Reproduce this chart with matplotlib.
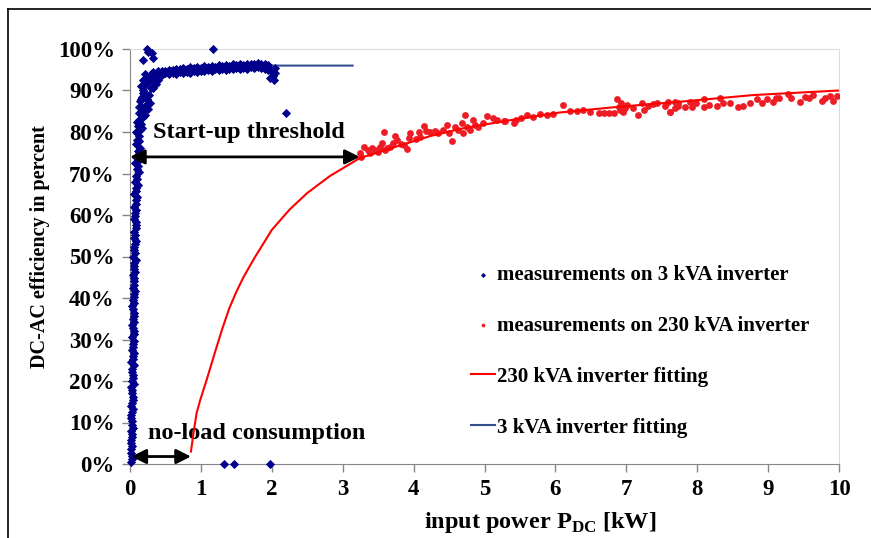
import matplotlib
matplotlib.use("Agg")
import matplotlib.pyplot as plt
from matplotlib.lines import Line2D

# ---- measurements on the 3 kVA inverter (kW, %) ---------------------------
# steep start-up column
p3_rise_x = [0.02, 0.03, 0.02, 0.01, 0.03, 0.02, 0.03, 0.02, 0.03, 0.02,
             0.04, 0.03, 0.02, 0.03, 0.04, 0.03, 0.02, 0.04, 0.03, 0.04,
             0.03, 0.05, 0.03, 0.04, 0.05, 0.03, 0.04, 0.05, 0.04, 0.06,
             0.04, 0.05, 0.06, 0.04, 0.05, 0.07, 0.05, 0.06, 0.08, 0.05,
             0.07, 0.06, 0.08, 0.06, 0.09, 0.07, 0.08, 0.10, 0.07, 0.09,
             0.11, 0.08, 0.10, 0.12, 0.09, 0.14, 0.11, 0.16, 0.12, 0.18,
             0.13, 0.20, 0.15, 0.22, 0.14, 0.24, 0.17, 0.27, 0.19, 0.30,
             0.16, 0.22, 0.34, 0.19, 0.26, 0.38, 0.21, 0.30, 0.42]
p3_rise_y = [0.5, 2.0, 3.5, 5.0, 6.5, 8.0, 9.5, 11.0, 12.5, 14.0,
             15.5, 17.0, 18.5, 20.0, 21.5, 23.0, 24.5, 26.0, 27.5, 29.0,
             30.5, 32.0, 33.5, 35.0, 36.5, 38.0, 39.5, 41.0, 42.5, 44.0,
             45.5, 47.0, 48.5, 50.0, 51.5, 53.0, 54.5, 56.0, 57.5, 59.0,
             60.5, 62.0, 63.5, 65.0, 66.5, 68.0, 69.5, 71.0, 72.5, 74.0,
             75.5, 77.0, 78.0, 79.0, 80.0, 80.5, 81.5, 82.0, 83.0, 83.5,
             84.5, 85.0, 86.0, 86.5, 87.5, 88.0, 88.5, 89.0, 90.0, 90.5,
             91.0, 91.5, 92.0, 92.5, 93.0, 93.0, 94.0, 94.0, 93.5]
# second pass through the same column (readings in between)
p3_fill_x = [0.03, 0.02, 0.03, 0.02, 0.03, 0.04, 0.03, 0.02, 0.04, 0.03,
             0.04, 0.03, 0.05, 0.04, 0.03, 0.05, 0.04, 0.05, 0.04, 0.06,
             0.05, 0.04, 0.06, 0.05, 0.04, 0.06, 0.05, 0.07, 0.06, 0.05,
             0.07, 0.06, 0.08, 0.07, 0.06, 0.08, 0.07, 0.09, 0.08, 0.07,
             0.09, 0.08, 0.10, 0.09, 0.11, 0.10, 0.12, 0.11, 0.13, 0.12,
             0.14, 0.13,
             0.10, 0.17, 0.21, 0.12, 0.25, 0.15, 0.28, 0.18, 0.33, 0.24,
             0.36, 0.28, 0.40, 0.35, 0.32, 0.36, 0.40, 0.34]
p3_fill_y = [1.25, 2.75, 4.25, 5.75, 7.25, 8.75, 10.25, 11.75, 13.25, 14.75,
             16.25, 17.75, 19.25, 20.75, 22.25, 23.75, 25.25, 26.75, 28.25,
             29.75, 31.25, 32.75, 34.25, 35.75, 37.25, 38.75, 40.25, 41.75,
             43.25, 44.75, 46.25, 47.75, 49.25, 50.75, 52.25, 53.75, 55.25,
             56.75, 58.25, 59.75, 61.25, 62.75, 64.25, 65.75, 67.25, 68.75,
             70.25, 71.75, 73.25, 74.75, 76.25, 77.75,
             82.5, 81.0, 84.0, 86.0, 85.5, 88.0, 87.0, 89.5, 90.5, 89.0,
             91.5, 92.5, 92.5, 93.5, 94.5, 94.0, 94.6, 93.3]
# plateau, three bands
p3_flat_x = [0.45, 0.50, 0.55, 0.60, 0.65, 0.70, 0.75, 0.80, 0.85, 0.90,
             0.95, 1.00, 1.05, 1.10, 1.15, 1.20, 1.25, 1.30, 1.35, 1.40,
             1.45, 1.50, 1.55, 1.60, 1.65, 1.70, 1.75, 1.80, 1.85, 1.90,
             1.95]
p3_flat_hi = [94.8, 94.6, 95.0, 94.9, 95.3, 95.1, 95.4, 95.2, 95.6, 95.4,
              95.7, 95.5, 95.8, 95.6, 96.0, 95.7, 96.1, 95.9, 96.2, 96.0,
              96.3, 96.1, 96.4, 96.2, 96.5, 96.3, 96.4, 96.6, 96.3, 96.5,
              96.2]
p3_flat_lo = [93.8, 94.1, 93.9, 94.3, 94.0, 94.4, 94.2, 94.5, 94.3, 94.7,
              94.5, 94.8, 94.6, 95.0, 94.8, 95.1, 94.9, 95.2, 95.0, 95.3,
              95.1, 95.4, 95.2, 95.5, 95.3, 95.6, 95.4, 95.7, 95.5, 95.3,
              94.9]
p3_mid_x = [0.475, 0.525, 0.575, 0.625, 0.675, 0.725, 0.775, 0.825, 0.875,
            0.925, 0.975, 1.025, 1.075, 1.125, 1.175, 1.225, 1.275, 1.325,
            1.375, 1.425, 1.475, 1.525, 1.575, 1.625, 1.675, 1.725, 1.775,
            1.825, 1.875, 1.925, 1.975]
p3_mid_y = [94.3, 94.5, 94.6, 94.7, 94.8, 94.9, 95.0, 95.0, 95.1, 95.2,
            95.2, 95.3, 95.4, 95.4, 95.5, 95.5, 95.6, 95.6, 95.7, 95.7,
            95.8, 95.8, 95.9, 95.9, 96.0, 96.0, 95.9, 96.0, 95.8, 95.6,
            95.2]
# stragglers: end-of-range droop, spikes and zero readings
p3_odd_x = [2.00, 2.02, 1.98, 2.03, 2.04, 2.05, 0.18, 0.24, 0.26, 0.31,
            0.33, 1.17, 2.20, 1.32, 1.46, 1.98]
p3_odd_y = [94.5, 93.5, 93.0, 92.6, 95.5, 94.2, 97.3, 99.9, 99.3, 99.0,
            97.8, 100.0, 84.5, 0.0, 0.0, 0.0]

# ---- measurements on the 230 kVA inverter (kW, %) -------------------------
p230_x = [3.24, 3.26, 3.30, 3.35, 3.38, 3.41, 3.46, 3.50, 3.53, 3.55,
          3.58, 3.60, 3.63, 3.67, 3.71, 3.74, 3.76, 3.82, 3.86, 3.91,
          3.93, 3.95, 4.04, 4.07, 4.09, 4.14, 4.18, 4.23, 4.30, 4.35,
          4.42, 4.47, 4.50, 4.54, 4.58, 4.63, 4.68, 4.70, 4.72, 4.75,
          4.80, 4.84, 4.87, 4.91, 4.98, 5.04, 5.12, 5.17, 5.27, 5.29,
          5.41, 5.45, 5.52, 5.60, 5.69, 5.78, 5.88, 5.97, 6.11, 6.21,
          6.30, 6.39, 6.49, 6.61, 6.68, 6.75, 6.82, 6.87, 6.89, 6.91,
          6.93, 6.96, 6.98, 7.01, 7.10, 7.16, 7.22, 7.25, 7.31, 7.38,
          7.43, 7.55, 7.59, 7.62, 7.69, 7.73, 7.62, 7.69, 7.73, 7.83,
          7.90, 7.92, 7.99, 8.09, 8.10, 8.17, 8.28, 8.32, 8.37, 8.46,
          8.58, 8.65, 8.74, 8.85, 8.92, 8.98, 9.07, 9.11, 9.16, 9.28,
          9.32, 9.45, 9.52, 9.57, 9.64, 9.76, 9.80, 9.87, 9.92, 9.97]
p230_y = [75.0, 73.9, 76.5, 75.7, 74.9, 76.1, 75.7, 75.3, 76.5, 77.4,
          80.1, 75.7, 76.1, 76.5, 77.3, 79.0, 78.1, 77.1, 76.9, 75.8,
          78.5, 79.7, 78.2, 80.1, 78.9, 81.4, 80.3, 80.1, 80.3, 79.7,
          80.5, 81.7, 79.7, 77.9, 81.1, 80.5, 82.1, 79.7, 84.1, 81.3,
          80.6, 82.9, 81.7, 81.3, 82.1, 83.9, 83.3, 82.9, 82.7, 82.7,
          82.1, 83.0, 83.3, 84.2, 83.7, 84.3, 84.1, 84.3, 86.5, 85.1,
          85.1, 85.4, 84.7, 84.5, 84.5, 84.5, 84.5, 87.9, 86.1, 85.3,
          86.9, 84.7, 85.7, 86.5, 85.7, 84.2, 86.9, 85.3, 86.3, 86.7,
          87.1, 86.3, 87.3, 84.7, 85.7, 87.1, 84.9, 87.3, 86.3, 86.1,
          87.3, 86.0, 86.9, 87.9, 86.1, 86.5, 86.3, 88.1, 87.1, 86.9,
          86.0, 86.3, 87.1, 87.9, 86.9, 87.9, 87.3, 88.3, 88.1, 89.1,
          88.3, 87.3, 88.5, 88.3, 88.9, 87.5, 88.1, 88.7, 87.5, 88.7]

# ---- fitted curves ----------------------------------------------------------
fit230_x = [0.86, 0.90, 0.94, 0.99, 1.08, 1.20, 1.30, 1.40, 1.50, 1.60,
            1.75, 2.00, 2.25, 2.50, 2.82, 3.24, 3.76, 4.23, 4.70, 5.31,
            6.06, 6.91, 7.76, 8.79, 10.0]
fit230_y = [3.0, 8.0, 12.3, 15.4, 20.2, 27.0, 32.5, 37.5, 41.5, 45.0,
            49.5, 56.4, 61.3, 65.3, 69.4, 73.7, 76.5, 79.0, 80.9, 82.7,
            84.7, 86.1, 87.3, 88.9, 90.0]
fit3_x = [0.02, 0.03, 0.05, 0.08, 0.12, 0.20, 0.30, 0.50, 1.00, 2.00, 3.14]
fit3_y = [0.0, 20.0, 50.0, 70.0, 82.0, 90.0, 93.0, 94.5, 95.5, 96.0, 96.0]

# ---- annotated ranges (kW) -------------------------------------------------
startup_kw = (0.0, 3.24)
startup_level = 74.0
noload_kw = (0.02, 0.86)
noload_level = 1.8

y_ticks = list(range(0, 101, 10))
x_ticks = list(range(0, 11))

NAVY = "#00008C"
RED = "#EE1C24"
FIT_BLUE = "#33508F"
AXIS_GREY = "#868686"
FRAME_GREY = "#DCDCDC"

plt.rcParams["font.family"] = "Liberation Serif"
plt.rcParams["font.weight"] = "bold"
plt.rcParams["mathtext.fontset"] = "custom"
plt.rcParams["mathtext.rm"] = "Liberation Serif:bold"
plt.rcParams["mathtext.bf"] = "Liberation Serif:bold"

fig = plt.figure(figsize=(8.71, 5.38), dpi=100)
ax = fig.add_axes([130 / 871, 1 - 464 / 538, 709 / 871, 415 / 538])

blue_x = p3_rise_x + p3_fill_x + p3_flat_x + p3_flat_x + p3_mid_x + p3_odd_x
blue_y = p3_rise_y + p3_fill_y + p3_flat_hi + p3_flat_lo + p3_mid_y + p3_odd_y

ax.plot(fit3_x, fit3_y, color=FIT_BLUE, lw=1.5, zorder=2)
s3 = ax.scatter(blue_x, blue_y, marker="D", s=22, color=NAVY, lw=0,
                clip_on=False, zorder=3)
s230 = ax.scatter(p230_x, p230_y, marker="o", s=24, color=RED, lw=0,
                  zorder=3)
ax.plot(fit230_x, fit230_y, color="#FF0000", lw=1.5, zorder=4)

# double-headed range arrows
arrow = dict(arrowstyle="<|-|>", color="black", lw=2, mutation_scale=22,
             shrinkA=0, shrinkB=0)
ax.annotate("", xy=(startup_kw[1], startup_level),
            xytext=(startup_kw[0], startup_level), arrowprops=arrow, zorder=5)
ax.text(0.32, 79.8, "Start-up threshold", fontsize=17.5, fontweight="bold",
        ha="left", va="center")
ax.annotate("", xy=(noload_kw[1], noload_level),
            xytext=(noload_kw[0], noload_level), arrowprops=arrow, zorder=5)
ax.text(0.25, 7.4, "no-load consumption", fontsize=17.5, fontweight="bold",
        ha="left", va="center")

ax.set_xlim(0, 10)
ax.set_ylim(0, 100)
ax.set_xticks(x_ticks)
ax.set_xticklabels([str(v) for v in x_ticks])
ax.set_yticks(y_ticks)
ax.set_yticklabels([f"{v}%" for v in y_ticks])
ax.tick_params(direction="out", length=6, width=1, color=AXIS_GREY,
               labelsize=16.5, pad=5)
for s in ("left", "bottom"):
    ax.spines[s].set_color(AXIS_GREY)
for s in ("top", "right"):
    ax.spines[s].set_color(FRAME_GREY)

ax.set_xlabel(r"input power P$_{\mathrm{DC}}$ [kW]", fontsize=17.5,
              fontweight="bold")
ax.xaxis.set_label_coords(0.578, -0.11)
ax.set_ylabel("DC-AC efficiency in percent", fontsize=14.5, fontweight="bold")
ax.yaxis.set_label_coords(-0.113, 0.523)

fit230_handle = Line2D([], [], color="#FF0000", lw=1.5)
fit3_handle = Line2D([], [], color=FIT_BLUE, lw=1.5)
ax.legend([s3, s230, fit230_handle, fit3_handle],
          ["measurements on 3 kVA inverter",
           "measurements on 230 kVA inverter",
           "230 kVA inverter fitting",
           "3 kVA inverter fitting"],
          loc="upper left", bbox_to_anchor=(471 / 871, 1 - 265 / 538),
          bbox_transform=fig.transFigure, frameon=False,
          handlelength=1.15, handletextpad=0.1, labelspacing=1.48,
          borderpad=0, borderaxespad=0, markerscale=0.55,
          prop={"family": "Liberation Serif", "weight": "bold", "size": 15})

# outer frame edges
fig.add_artist(Line2D([8 / 871, 1.0], [1 - 9 / 538, 1 - 9 / 538],
                      transform=fig.transFigure, color="black", lw=1.2))
fig.add_artist(Line2D([8 / 871, 8 / 871], [0.0, 1 - 9 / 538],
                      transform=fig.transFigure, color="black", lw=1.2))

fig.savefig("out.png", dpi=100)
